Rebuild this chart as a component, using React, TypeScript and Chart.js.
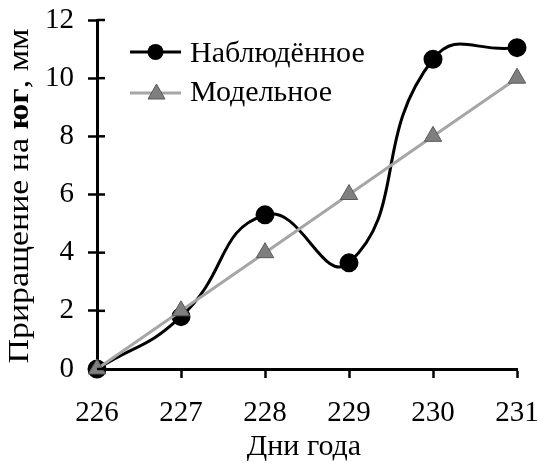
import React, { useEffect, useRef } from "react";
import { Chart, registerables } from "chart.js";

Chart.register(...registerables);

const days = [226, 227, 228, 229, 230, 231];
const observed = [0, 1.8, 5.3, 3.65, 10.65, 11.05];
const model = [0, 2, 4, 6, 8, 10];
const yTicks = [0, 2, 4, 6, 8, 10, 12];
const seriesNames = ["Наблюдённое", "Модельное"];
const xTitle = "Дни года";
const yTitleParts = [
  { text: "Приращение на ", bold: false },
  { text: "юг", bold: true },
  { text: ", мм", bold: false },
];

const FONT = "'Liberation Serif', 'Times New Roman', serif";
const FS_TICK = 29;
const FS_TEXT = 30;
const FS_YTITLE = 29;
const GRAY_LINE = "#a6a6a6";
const GRAY_FILL = "#7f7f7f";
const GRAY_EDGE = "#595959";

const decorPlugin = {
  id: "decor",
  afterDraw(chart: any) {
    const ctx = chart.ctx;
    const y = chart.scales.y;
    const area = chart.chartArea;
    ctx.save();
    // inner y ticks
    ctx.strokeStyle = "#000";
    ctx.lineWidth = 2.5;
    yTicks.forEach((v) => {
      const py = y.getPixelForValue(v);
      ctx.beginPath();
      ctx.moveTo(area.left, py);
      ctx.lineTo(area.left + 8, py);
      ctx.stroke();
    });
    // y title
    const parts = yTitleParts.map((p) => {
      ctx.font = `${p.bold ? "bold " : ""}${FS_YTITLE}px ${FONT}`;
      return { ...p, w: ctx.measureText(p.text).width };
    });
    const total = parts.reduce((s, p) => s + p.w, 0);
    const stretch = 335 / total;
    ctx.translate(28, 196);
    ctx.rotate(-Math.PI / 2);
    ctx.scale(stretch, 1);
    ctx.textBaseline = "alphabetic";
    ctx.textAlign = "left";
    ctx.fillStyle = "#000";
    let cx = -total / 2;
    parts.forEach((p) => {
      ctx.font = `${p.bold ? "bold " : ""}${FS_YTITLE}px ${FONT}`;
      ctx.fillText(p.text, cx, 0);
      cx += p.w;
    });
    ctx.setTransform(1, 0, 0, 1, 0, 0);
    // x title
    ctx.font = `${FS_TEXT}px ${FONT}`;
    ctx.textAlign = "center";
    ctx.textBaseline = "alphabetic";
    ctx.fillText(xTitle, 304, 455);
    // legend
    const lx0 = 130, lx1 = 181, tx = 190;
    const ly = [52, 93];
    const lb = [62, 101];
    ctx.textAlign = "left";
    // observed
    ctx.strokeStyle = "#000";
    ctx.lineWidth = 3;
    ctx.beginPath();
    ctx.moveTo(lx0, ly[0]);
    ctx.lineTo(lx1, ly[0]);
    ctx.stroke();
    ctx.fillStyle = "#000";
    ctx.beginPath();
    ctx.arc((lx0 + lx1) / 2, ly[0], 8, 0, Math.PI * 2);
    ctx.fill();
    ctx.fillText(seriesNames[0], tx, lb[0]);
    // model
    ctx.strokeStyle = GRAY_LINE;
    ctx.beginPath();
    ctx.moveTo(lx0, ly[1]);
    ctx.lineTo(lx1, ly[1]);
    ctx.stroke();
    const mx = (lx0 + lx1) / 2 + 1;
    ctx.fillStyle = GRAY_FILL;
    ctx.strokeStyle = GRAY_EDGE;
    ctx.lineWidth = 1;
    ctx.beginPath();
    ctx.moveTo(mx, ly[1] - 9);
    ctx.lineTo(mx + 8.5, ly[1] + 6);
    ctx.lineTo(mx - 8.5, ly[1] + 6);
    ctx.closePath();
    ctx.fill();
    ctx.stroke();
    ctx.fillStyle = "#000";
    ctx.fillText(seriesNames[1], tx, lb[1]);
    ctx.restore();
  },
};

export default function App() {
  const ref = useRef<HTMLCanvasElement>(null);
  useEffect(() => {
    document.body.style.margin = "0";
    const chart = new Chart(ref.current!, {
      type: "line",
      data: {
        datasets: [
          {
            label: seriesNames[0],
            data: days.map((d, i) => ({ x: d, y: observed[i] })),
            borderColor: "#000",
            backgroundColor: "#000",
            borderWidth: 3,
            pointRadius: 8,
            pointBackgroundColor: "#000",
            pointBorderColor: "#000",
            tension: 0.5,
            order: 2,
            clip: false as any,
          },
          {
            label: seriesNames[1],
            data: days.map((d, i) => ({ x: d, y: model[i] })),
            borderColor: GRAY_LINE,
            backgroundColor: GRAY_FILL,
            borderWidth: 3,
            pointStyle: "triangle",
            pointRadius: 10,
            pointBackgroundColor: GRAY_FILL,
            pointBorderColor: GRAY_EDGE,
            pointBorderWidth: 1,
            tension: 0,
            order: 1,
            clip: false as any,
          },
        ],
      },
      options: {
        animation: false,
        responsive: false,
        layout: { padding: { top: 20, right: 21, left: 0, bottom: 0 } },
        plugins: { legend: { display: false }, tooltip: { enabled: false } },
        scales: {
          x: {
            type: "linear",
            min: 226,
            max: 231,
            afterFit: (s: any) => {
              s.height = 94;
              s.paddingLeft = 0;
              s.paddingRight = 0;
            },
            ticks: {
              stepSize: 1,
              padding: 18,
              color: "#000",
              font: { family: FONT, size: FS_TICK },
              callback: (v: any) => String(v),
            },
            grid: {
              drawOnChartArea: false,
              drawTicks: true,
              tickLength: 9,
              tickWidth: 2.5,
              tickColor: "#000",
            },
            border: { color: "#000", width: 3 },
          },
          y: {
            min: 0,
            max: 12,
            afterFit: (s: any) => {
              s.width = 97;
              s.paddingTop = 0;
              s.paddingBottom = 0;
            },
            ticks: {
              stepSize: 2,
              padding: 14,
              color: "#000",
              font: { family: FONT, size: FS_TICK },
            },
            grid: {
              drawOnChartArea: false,
              drawTicks: true,
              tickLength: 9,
              tickWidth: 2.5,
              tickColor: "#000",
            },
            border: { color: "#000", width: 3 },
          },
        },
      },
      plugins: [decorPlugin],
    });
    return () => chart.destroy();
  }, []);
  return <canvas ref={ref} width={538} height={463} style={{ display: "block" }} />;
}
